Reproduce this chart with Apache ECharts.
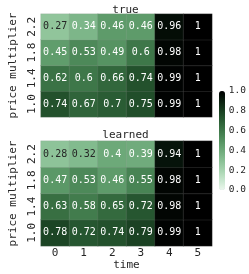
<!DOCTYPE html>
<html><head><meta charset="utf-8">
<script src="https://cdn.jsdelivr.net/npm/echarts@6/dist/echarts.min.js"></script>
<style>html,body{margin:0;padding:0;background:#fff}#c{width:249px;height:274px}</style>
</head><body><div id="c"></div>
<script>
const times = ['0','1','2','3','4','5'];
const multipliers = ['1.0','1.4','1.8','2.2'];
const titles = ['true','learned'];
// rows listed from price multiplier 1.0 (bottom) to 2.2 (top)
const trueVals = [
  [0.74,0.67,0.7,0.75,0.99,1],
  [0.62,0.6,0.66,0.74,0.99,1],
  [0.45,0.53,0.49,0.6,0.98,1],
  [0.27,0.34,0.46,0.46,0.96,1]
];
const learnedVals = [
  [0.78,0.72,0.74,0.79,0.99,1],
  [0.63,0.58,0.65,0.72,0.98,1],
  [0.47,0.53,0.46,0.55,0.98,1],
  [0.28,0.32,0.4,0.39,0.94,1]
];
const cbTicks = [0,0.2,0.4,0.6,0.8,1.0];

// seaborn cubehelix_palette(start=2, rot=0, dark=0, light=.95)
function cube(v){
  const x = 0.95*(1-v);
  const a = 0.4*x*(1-x);
  const phi = 2*Math.PI*(2/3);
  const c = Math.cos(phi), s = Math.sin(phi);
  const f = (p0,p1)=>Math.min(1,Math.max(0,x + a*(p0*c+p1*s)));
  return [f(-0.14861,1.78277), f(-0.29227,-0.90649), f(1.97294,0)];
}
function hex(rgb){return '#'+rgb.map(u=>Math.round(u*255).toString(16).padStart(2,'0')).join('');}
function lum(rgb){
  const l = rgb.map(u=> u<=0.03928? u/12.92 : Math.pow((u+0.055)/1.055,2.4));
  return 0.2126*l[0]+0.7152*l[1]+0.0722*l[2];
}
const stops = [];
for(let i=0;i<=20;i++) stops.push(hex(cube(i/20)));

function cells(vals){
  const out=[];
  vals.forEach((row,yi)=>row.forEach((v,xi)=>{
    out.push({value:[xi,yi,v], label:{color: lum(cube(v))>0.408 ? '#262626':'#ffffff'}});
  }));
  return out;
}
const FONT = 'DejaVu Sans Mono';
const grids = [
  {left:29, top:14, width:183, height:103},
  {left:29, top:141, width:183, height:105},
  {left:219, top:91, width:6, height:99}
];
const chart = echarts.init(document.getElementById('c'));
const yAx = (gi)=>({type:'category', gridIndex:gi, data:multipliers,
  axisLine:{show:false}, axisTick:{show:false},
  axisLabel:{rotate:90, margin:3, interval:0, hideOverlap:false, fontFamily:FONT, fontSize:11, color:'#262626'},
  name:'price multiplier', nameLocation:'middle', nameRotate:90, nameGap:17,
  nameTextStyle:{fontFamily:FONT, fontSize:11, color:'#262626'}});
chart.setOption({
  backgroundColor:'#fff',
  animation:false,
  title: titles.map((t,i)=>({text:t, left:120.5, textAlign:'center', top: i===0?0:125,
    textStyle:{fontFamily:FONT, fontSize:11, fontWeight:'normal', color:'#262626'}})),
  grid: grids,
  xAxis:[
    {type:'category', gridIndex:0, data:times, show:false},
    {type:'category', gridIndex:1, data:times, axisLine:{show:false}, axisTick:{show:false},
      axisLabel:{margin:2, interval:0, fontFamily:FONT, fontSize:11, color:'#262626'},
      name:'time', nameLocation:'middle', nameGap:11,
      nameTextStyle:{fontFamily:FONT, fontSize:11, color:'#262626'}},
    {type:'value', gridIndex:2, show:false}
  ],
  yAxis:[
    yAx(0), yAx(1),
    {type:'value', gridIndex:2, min:0, max:1, interval:0.2, position:'right',
      axisLine:{show:false}, axisTick:{show:false}, splitLine:{show:false},
      axisLabel:{margin:4, fontFamily:FONT, fontSize:9.5, color:'#262626', formatter:v=>v.toFixed(1)}}
  ],
  visualMap:{type:'continuous', min:0, max:1, seriesIndex:[0,1], orient:'vertical',
    left:219, top:91, itemWidth:6, itemHeight:99, padding:0, calculable:false,
    text:null, inRange:{color:stops}},
  series:[trueVals, learnedVals].map((vals,i)=>({
    type:'heatmap', xAxisIndex:i, yAxisIndex:i, data:cells(vals),
    itemStyle:{borderColor:'rgba(140,140,140,0.35)', borderWidth:0.5},
    label:{show:true, fontFamily:FONT, fontSize:10, formatter:p=>String(p.value[2])}
  }))
});
</script></body></html>
